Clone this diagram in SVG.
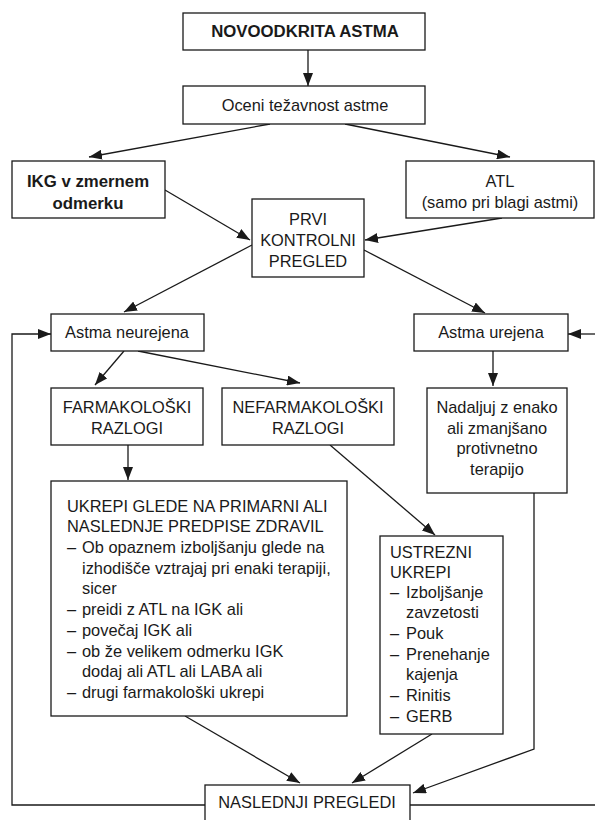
<svg xmlns="http://www.w3.org/2000/svg" width="595" height="820" viewBox="0 0 595 820">
<defs>
<marker id="ah" markerUnits="userSpaceOnUse" markerWidth="13" markerHeight="10" refX="13" refY="5" orient="auto">
<path d="M0,0 L13,5 L0,10 z" fill="#1a1a1a"/>
</marker>
<style>
.b{fill:#fff;stroke:#1a1a1a;stroke-width:1.3}
.t{font-family:"Liberation Sans",Arial,sans-serif;font-size:16.4px;fill:#1a1a1a}
.c{text-anchor:middle}
.bold{font-weight:bold;font-size:16.8px}
.e{fill:none;stroke:#1a1a1a;stroke-width:1.3}
.a{marker-end:url(#ah)}
</style>
</defs>
<rect width="595" height="820" fill="#fff"/>
<g id="connectors">
<path class="e a" d="M308,50 L308,86"/>
<path class="e a" d="M270,124 L89,157"/>
<path class="e a" d="M345,124 L510,157"/>
<path class="e a" d="M165,190 L250,240"/>
<path class="e a" d="M502,218 L365,240"/>
<path class="e a" d="M252,245 L124,312"/>
<path class="e a" d="M364,250 L485,313"/>
<path class="e a" d="M124,351 L95,385"/>
<path class="e a" d="M138,351 L300,383"/>
<path class="e a" d="M493,351 L493,386"/>
<path class="e a" d="M128,445 L128,480"/>
<path class="e a" d="M330,445 L435,535"/>
<path class="e a" d="M185,716 L300,783"/>
<path class="e a" d="M432,734 L352,783"/>
<path class="e a" d="M534,493 L534,749 L413,793"/>
<path class="e a" d="M205,805 L12,805 L12,334 L51,334"/>
<path class="e" d="M410,805 L595,805"/>
<path class="e a" d="M595,334 L568,334"/>
</g>
<g id="n1"><rect class="b" x="183" y="13" width="242" height="37"/><text class="t c bold" x="305" y="37">NOVOODKRITA ASTMA</text></g>
<g id="n2"><rect class="b" x="183" y="86" width="242" height="38"/><text class="t c" x="305" y="111">Oceni težavnost astme</text></g>
<g id="n3"><rect class="b" x="12" y="161" width="153" height="57"/><text class="t c bold" x="88" y="187">IKG v zmernem</text><text class="t c bold" x="88" y="209">odmerku</text></g>
<g id="n4"><rect class="b" x="406" y="161" width="188" height="57"/><text class="t c" x="500" y="187">ATL</text><text class="t c" x="500" y="208">(samo pri blagi astmi)</text></g>
<g id="n5"><rect class="b" x="252" y="199" width="112" height="78"/><text class="t c" x="308" y="225">PRVI</text><text class="t c" x="308" y="246">KONTROLNI</text><text class="t c" x="308" y="267">PREGLED</text></g>
<g id="n6"><rect class="b" x="51" y="314" width="153" height="37"/><text class="t c" x="127" y="338">Astma neurejena</text></g>
<g id="n7"><rect class="b" x="414" y="314" width="154" height="37"/><text class="t c" x="491" y="338">Astma urejena</text></g>
<g id="n8"><rect class="b" x="51" y="388" width="152" height="57"/><text class="t c" x="127" y="413">FARMAKOLOŠKI</text><text class="t c" x="127" y="434">RAZLOGI</text></g>
<g id="n9"><rect class="b" x="222" y="388" width="172" height="57"/><text class="t c" x="308" y="413">NEFARMAKOLOŠKI</text><text class="t c" x="308" y="434">RAZLOGI</text></g>
<g id="n10"><rect class="b" x="427" y="388" width="140" height="105"/><text class="t c" x="497" y="413">Nadaljuj z enako</text><text class="t c" x="497" y="434">ali zmanjšano</text><text class="t c" x="497" y="454">protivnetno</text><text class="t c" x="497" y="475">terapijo</text></g>
<g id="n11"><rect class="b" x="51" y="481" width="296" height="235"/>
<text class="t" x="67" y="512">UKREPI GLEDE NA PRIMARNI ALI</text>
<text class="t" x="67" y="532">NASLEDNJE PREDPISE ZDRAVIL</text>
<text class="t" x="67" y="553"><tspan>–</tspan><tspan x="82">Ob opaznem izboljšanju glede na</tspan></text>
<text class="t" x="82" y="574">izhodišče vztrajaj pri enaki terapiji,</text>
<text class="t" x="82" y="594">sicer</text>
<text class="t" x="67" y="615"><tspan>–</tspan><tspan x="82">preidi z ATL na IGK ali</tspan></text>
<text class="t" x="67" y="636"><tspan>–</tspan><tspan x="82">povečaj IGK ali</tspan></text>
<text class="t" x="67" y="657"><tspan>–</tspan><tspan x="82">ob že velikem odmerku IGK</tspan></text>
<text class="t" x="82" y="677">dodaj ali ATL ali LABA ali</text>
<text class="t" x="67" y="698"><tspan>–</tspan><tspan x="82">drugi farmakološki ukrepi</tspan></text>
</g>
<g id="n12"><rect class="b" x="380" y="536" width="123" height="198"/>
<text class="t" x="390" y="558">USTREZNI</text>
<text class="t" x="390" y="578">UKREPI</text>
<text class="t" x="390" y="598"><tspan>–</tspan><tspan x="406">Izboljšanje</tspan></text>
<text class="t" x="406" y="618">zavzetosti</text>
<text class="t" x="390" y="639"><tspan>–</tspan><tspan x="406">Pouk</tspan></text>
<text class="t" x="390" y="660"><tspan>–</tspan><tspan x="406">Prenehanje</tspan></text>
<text class="t" x="406" y="680">kajenja</text>
<text class="t" x="390" y="701"><tspan>–</tspan><tspan x="406">Rinitis</tspan></text>
<text class="t" x="390" y="722"><tspan>–</tspan><tspan x="406">GERB</tspan></text>
</g>
<g id="n13"><rect class="b" x="205" y="785" width="205" height="40"/><text class="t c" x="307" y="808">NASLEDNJI PREGLEDI</text></g>
</svg>
